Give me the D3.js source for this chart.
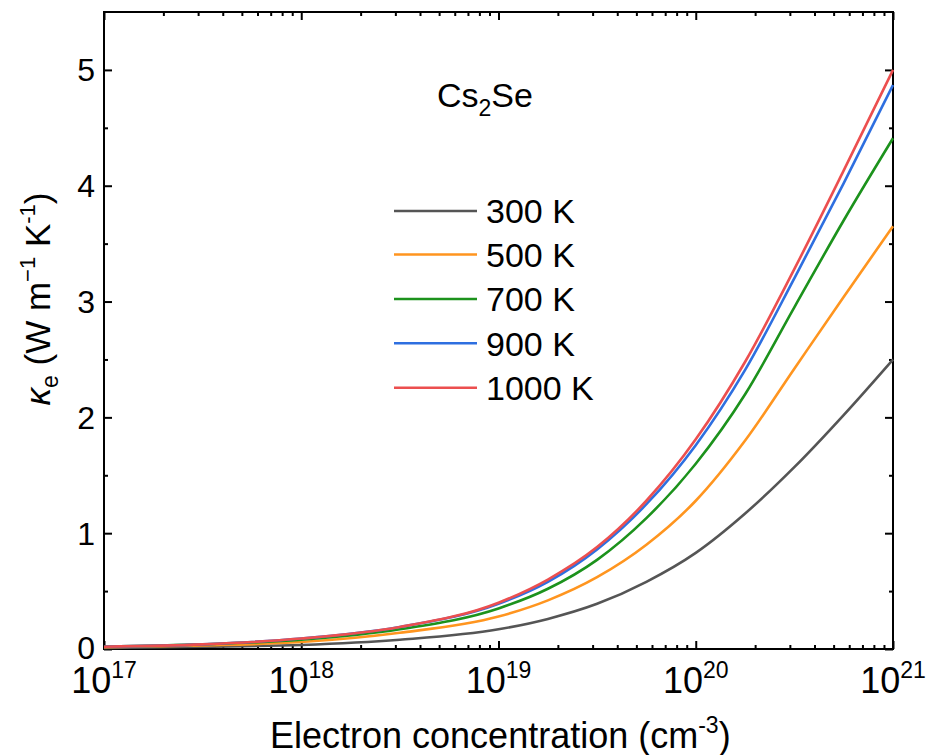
<!DOCTYPE html>
<html>
<head>
<meta charset="utf-8">
<script src="https://cdn.jsdelivr.net/npm/d3@7"></script>
<style>
  body { margin: 0; background: #fff; }
  text { font-family: "Liberation Sans", Arial, sans-serif; fill: #000; }
</style>
</head>
<body>
<svg id="chart" width="928" height="755"></svg>
<script>
// Electron concentration (cm^-3)
const concentration = [1e17, 3.16e17, 1e18, 3.16e18, 1e19, 1.78e19, 3.16e19, 5.62e19,
                       1e20, 1.78e20, 3.16e20, 5.62e20, 1e21];

// Electronic thermal conductivity (W m^-1 K^-1) at each temperature
const kappa300  = [0.01, 0.02, 0.035, 0.08, 0.17, 0.26, 0.39, 0.58, 0.83, 1.17, 1.57, 2.02, 2.50];
const kappa500  = [0.015, 0.03, 0.06, 0.14, 0.28, 0.42, 0.62, 0.90, 1.28, 1.80, 2.42, 3.04, 3.65];
const kappa700  = [0.02, 0.04, 0.08, 0.17, 0.35, 0.52, 0.77, 1.13, 1.60, 2.20, 2.95, 3.70, 4.41];
const kappa900  = [0.02, 0.04, 0.09, 0.19, 0.39, 0.58, 0.86, 1.25, 1.76, 2.41, 3.20, 4.02, 4.87];
const kappa1000 = [0.02, 0.04, 0.09, 0.19, 0.40, 0.60, 0.88, 1.28, 1.81, 2.48, 3.28, 4.13, 5.00];

const temperatureLabels = ["300 K", "500 K", "700 K", "900 K", "1000 K"];
const seriesColors = ["#555555", "#ff951f", "#1c921c", "#2e6fe0", "#ec4f4f"];

const yTickValues = [0, 1, 2, 3, 4, 5];
const yMinorTickValues = [0.5, 1.5, 2.5, 3.5, 4.5];
const xDecades = [1e17, 1e18, 1e19, 1e20, 1e21];
const xExponents = ["17", "18", "19", "20", "21"];

const seriesValues = [kappa300, kappa500, kappa700, kappa900, kappa1000];
const series = temperatureLabels.map((label, i) => ({
  label,
  color: seriesColors[i],
  points: concentration.map((n, j) => ({ n, k: seriesValues[i][j] }))
}));

const svg = d3.select("#chart");
const plot = { left: 104, right: 893, top: 12, bottom: 649 };

const x = d3.scaleLog().domain([1e17, 1e21]).range([plot.left, plot.right]);
const y = d3.scaleLinear().domain([0, 5.5]).range([plot.bottom, plot.top]);

// minor log ticks: 2..9 within every decade
const xMinor = [];
xDecades.slice(0, -1).forEach(d => { for (let m = 2; m <= 9; m++) xMinor.push(d * m); });

const axisStyle = g => {
  g.select(".domain").remove();
  g.selectAll("line").attr("stroke", "#000").attr("stroke-width", 2);
  g.selectAll("text").remove();
};

// ticks pointing into the plot on all four sides
svg.append("g").attr("transform", `translate(0,${plot.bottom})`)
  .call(d3.axisBottom(x).tickValues(xDecades).tickSize(-8)).call(axisStyle);
svg.append("g").attr("transform", `translate(0,${plot.bottom})`)
  .call(d3.axisBottom(x).tickValues(xMinor).tickSize(-4)).call(axisStyle);
svg.append("g").attr("transform", `translate(0,${plot.top})`)
  .call(d3.axisTop(x).tickValues(xDecades).tickSize(-8)).call(axisStyle);
svg.append("g").attr("transform", `translate(0,${plot.top})`)
  .call(d3.axisTop(x).tickValues(xMinor).tickSize(-4)).call(axisStyle);
svg.append("g").attr("transform", `translate(${plot.left},0)`)
  .call(d3.axisLeft(y).tickValues(yTickValues).tickSize(-8)).call(axisStyle);
svg.append("g").attr("transform", `translate(${plot.left},0)`)
  .call(d3.axisLeft(y).tickValues(yMinorTickValues).tickSize(-4)).call(axisStyle);
svg.append("g").attr("transform", `translate(${plot.right},0)`)
  .call(d3.axisRight(y).tickValues(yTickValues).tickSize(-8)).call(axisStyle);
svg.append("g").attr("transform", `translate(${plot.right},0)`)
  .call(d3.axisRight(y).tickValues(yMinorTickValues).tickSize(-4)).call(axisStyle);

// frame
svg.append("rect")
  .attr("x", plot.left).attr("y", plot.top)
  .attr("width", plot.right - plot.left).attr("height", plot.bottom - plot.top)
  .attr("fill", "none").attr("stroke", "#000").attr("stroke-width", 2);

// curves
const line = d3.line()
  .x(d => x(d.n))
  .y(d => y(d.k))
  .curve(d3.curveMonotoneX);

svg.append("g").selectAll("path").data(series).join("path")
  .attr("d", d => line(d.points))
  .attr("fill", "none")
  .attr("stroke", d => d.color)
  .attr("stroke-width", 2.6)
  .attr("stroke-linejoin", "round");

// y tick labels
svg.append("g").selectAll("text").data(yTickValues).join("text")
  .attr("x", 95).attr("y", d => y(d)).attr("dy", d => d === 0 ? "0.3em" : "0.36em")
  .attr("text-anchor", "end").attr("font-size", 32)
  .text(d => d);

// x tick labels: 10 with superscript exponent
const xLabels = svg.append("g").selectAll("text").data(xDecades).join("text")
  .attr("x", d => x(d)).attr("y", 693)
  .attr("text-anchor", "middle").attr("font-size", 36);
xLabels.append("tspan").text("10");
xLabels.append("tspan").attr("dy", -15).attr("font-size", 23)
  .text((d, i) => xExponents[i]);

// x axis title
const xTitle = svg.append("text").attr("x", 270).attr("y", 748)
  .attr("font-size", 36);
xTitle.append("tspan").text("Electron concentration (cm");
xTitle.append("tspan").attr("dy", -15).attr("font-size", 23).text("-3");
xTitle.append("tspan").attr("dy", 15).text(")");

// y axis title
const yTitle = svg.append("text")
  .attr("transform", "translate(50,299) rotate(-90)")
  .attr("text-anchor", "middle").attr("font-size", 35);
yTitle.append("tspan").attr("font-style", "italic").text("κ");
yTitle.append("tspan").attr("dy", 8).attr("font-size", 23).text("e");
yTitle.append("tspan").attr("dy", -8).text(" (W m");
yTitle.append("tspan").attr("dy", -15).attr("font-size", 22).text("−1");
yTitle.append("tspan").attr("dy", 15).text(" K");
yTitle.append("tspan").attr("dy", -15).attr("font-size", 22).text("-1");
yTitle.append("tspan").attr("dy", 15).text(")");

// compound label
const compound = svg.append("text").attr("x", 437).attr("y", 107).attr("font-size", 34);
compound.append("tspan").text("Cs");
compound.append("tspan").attr("dy", 9).attr("font-size", 23).text("2");
compound.append("tspan").attr("dy", -9).text("Se");

// legend
const legendRows = [211, 254.5, 299, 343.3, 387.7];
const legend = svg.append("g").selectAll("g").data(series).join("g")
  .attr("transform", (d, i) => `translate(0,${legendRows[i]})`);
legend.append("line")
  .attr("x1", 394).attr("x2", 477)
  .attr("stroke", d => d.color).attr("stroke-width", 2.6);
legend.append("text")
  .attr("x", 486).attr("dy", "0.36em").attr("font-size", 34)
  .text(d => d.label);
</script>
</body>
</html>
